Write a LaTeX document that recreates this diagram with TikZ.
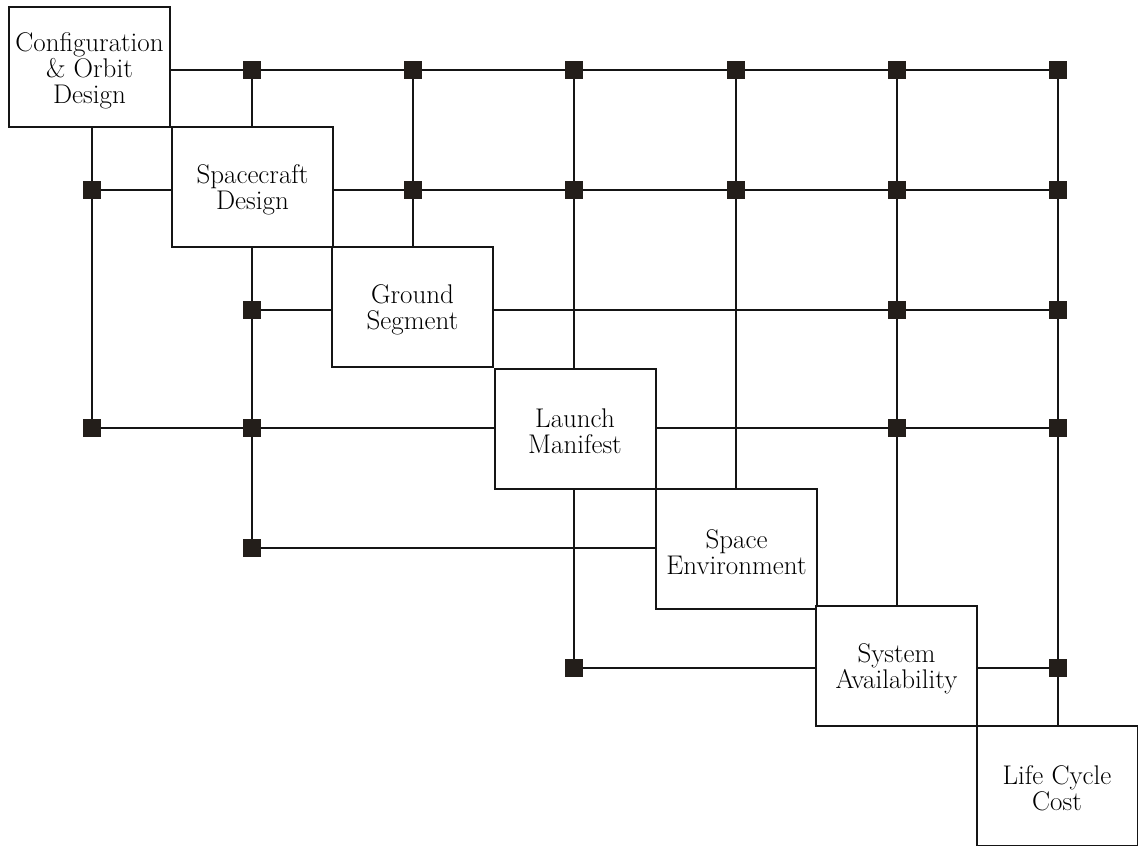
\documentclass[tikz,border=0pt]{standalone}
\usepackage{tikz}
\definecolor{sqc}{HTML}{231E1A}
\definecolor{lnc}{HTML}{151515}
\begin{document}
\begin{tikzpicture}[x=1pt,y=-1pt,
  box/.style={draw=lnc, line width=2pt, fill=white, minimum width=161pt, minimum height=120pt, inner sep=0pt},
  lbl/.style={inner sep=0pt, align=center, font=\fontsize{27}{26}\selectfont},
  sq/.style={fill=sqc, draw=none, minimum size=18pt, inner sep=0pt},
  ln/.style={draw=lnc, line width=2pt}]
\useasboundingbox (0,0) rectangle (1138,846);
\def\cA{92}\def\cB{252}\def\cC{413}\def\cD{574}\def\cE{736}\def\cF{897}\def\cG{1058}
\def\rA{70}\def\rB{190}\def\rC{310}\def\rD{428}\def\rE{548}\def\rF{668}
% boxes
\node[box] (b1) at (89.5,67) {};
\node[box] (b2) at (252.5,187) {};
\node[box] (b3) at (412.5,307) {};
\node[box] (b4) at (575,428.5) {};
\node[box] (b5) at (736.5,549) {};
\node[box] (b6) at (896.5,666) {};
\node[box] (b7) at (1057,785.5) {};
\node[lbl] (t1) at ([yshift=-4pt]b1.center) {Configuration\\\& Orbit\\Design};
\node[lbl] (t2) at ([yshift=-3pt]b2.center) {Spacecraft\\Design};
\node[lbl] (t3) at ([yshift=-3pt]b3.center) {Ground\\Segment};
\node[lbl] (t4) at ([yshift=-3pt]b4.center) {Launch\\Manifest};
\node[lbl] (t5) at ([yshift=-3pt]b5.center) {Space\\Environment};
\node[lbl] (t6) at ([yshift=-3pt]b6.center) {System\\Availability};
\node[lbl] (t7) at ([yshift=-3pt]b7.center) {Life Cycle\\Cost};
% square coordinates
\coordinate (s12) at (\cB,\rA); \coordinate (s13) at (\cC,\rA); \coordinate (s14) at (\cD,\rA);
\coordinate (s15) at (\cE,\rA); \coordinate (s16) at (\cF,\rA); \coordinate (s17) at (\cG,\rA);
\coordinate (s21) at (\cA,\rB); \coordinate (s23) at (\cC,\rB); \coordinate (s24) at (\cD,\rB);
\coordinate (s25) at (\cE,\rB); \coordinate (s26) at (\cF,\rB); \coordinate (s27) at (\cG,\rB);
\coordinate (s32) at (\cB,\rC); \coordinate (s36) at (\cF,\rC); \coordinate (s37) at (\cG,\rC);
\coordinate (s41) at (\cA,\rD); \coordinate (s42) at (\cB,\rD); \coordinate (s46) at (\cF,\rD); \coordinate (s47) at (\cG,\rD);
\coordinate (s52) at (\cB,\rE);
\coordinate (s64) at (\cD,\rF); \coordinate (s67) at (\cG,\rF);
% connectors
\begin{scope}[ln]
\draw (b1.east |- s12) -- (s17);
\draw (s12) -- (s12 |- b2.north);
\draw (s13) -- (s13 |- b3.north);
\draw (s14) -- (s14 |- b4.north);
\draw (s14 |- b4.south) -- (s64);
\draw (s15) -- (s15 |- b5.north);
\draw (s16) -- (s16 |- b6.north);
\draw (s17) -- (s17 |- b7.north);
\draw (s21 |- b1.south) -- (s41);
\draw (s32 |- b2.south) -- (s52);
\draw (s21) -- (s21 -| b2.west);
\draw (s23 -| b2.east) -- (s27);
\draw (s32) -- (s32 -| b3.west);
\draw (s36 -| b3.east) -- (s37);
\draw (s41) -- (s41 -| b4.west);
\draw (s46 -| b4.east) -- (s47);
\draw (s52) -- (s52 -| b5.west);
\draw (s64) -- (s64 -| b6.west);
\draw (s67 -| b6.east) -- (s67);
\end{scope}
% squares
\foreach \s in {s12,s13,s14,s15,s16,s17,s21,s23,s24,s25,s26,s27,s32,s36,s37,s41,s42,s46,s47,s52,s64,s67}
  \node[sq] (q\s) at (\s) {};
\end{tikzpicture}
\end{document}
